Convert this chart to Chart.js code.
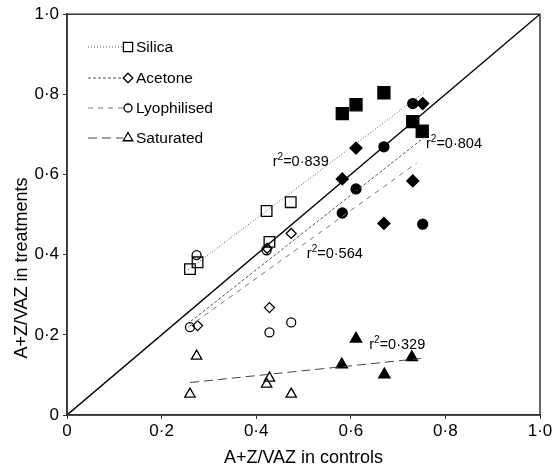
<!DOCTYPE html>
<html><head><meta charset="utf-8">
<script src="https://cdn.jsdelivr.net/npm/chart.js@4/dist/chart.umd.min.js"></script>
<style>html,body{margin:0;padding:0;background:#fff}</style>
</head><body>
<canvas id="c" width="557" height="476" style="display:block"></canvas>
<script>
// ---- data ----
const tickValues = [0, 0.2, 0.4, 0.6, 0.8, 1.0];
const tickLabels = ['0', '0·2', '0·4', '0·6', '0·8', '1·0'];

const identityX = [0, 1];
const identityY = [0, 1];

const silicaOpenX = [0.260, 0.276, 0.422, 0.428, 0.473];
const silicaOpenY = [0.364, 0.381, 0.509, 0.432, 0.531];
const silicaFilledX = [0.582, 0.611, 0.670, 0.731, 0.751];
const silicaFilledY = [0.752, 0.774, 0.804, 0.732, 0.708];

const acetoneOpenX = [0.276, 0.423, 0.428, 0.474];
const acetoneOpenY = [0.223, 0.416, 0.268, 0.453];
const acetoneFilledX = [0.582, 0.611, 0.670, 0.731, 0.752];
const acetoneFilledY = [0.589, 0.666, 0.478, 0.584, 0.777];

const lyoOpenX = [0.260, 0.274, 0.422, 0.428, 0.474];
const lyoOpenY = [0.219, 0.399, 0.411, 0.206, 0.231];
const lyoFilledX = [0.582, 0.611, 0.670, 0.731, 0.752];
const lyoFilledY = [0.504, 0.564, 0.669, 0.777, 0.476];

const satOpenX = [0.260, 0.274, 0.422, 0.428, 0.474];
const satOpenY = [0.052, 0.147, 0.077, 0.092, 0.052];
const satFilledX = [0.581, 0.611, 0.671, 0.729];
const satFilledY = [0.126, 0.190, 0.101, 0.144];

const silicaFitX = [0.256, 0.755];
const silicaFitY = [0.362, 0.805];
const acetoneFitX = [0.262, 0.761];
const acetoneFitY = [0.234, 0.698];
const lyoFitX = [0.256, 0.739];
const lyoFitY = [0.219, 0.628];
const satFitX = [0.260, 0.748];
const satFitY = [0.081, 0.141];

const seriesNames = ['Silica', 'Acetone', 'Lyophilised', 'Saturated'];
const r2Values = ['0·839', '0·804', '0·564', '0·329'];
const r2AnchorX = [0.435, 0.759, 0.507, 0.639];
const r2AnchorY = [0.621, 0.666, 0.392, 0.165];

const xTitle = 'A+Z/VAZ in controls';
const yTitle = 'A+Z/VAZ in treatments';

// ---- helpers ----
const pts = (xs, ys) => xs.map((x, i) => ({x: x, y: ys[i]}));
const FONT = "'Liberation Sans', Arial, sans-serif";
const AX = '#333';

const styles = {
  Silica: {dash: [1, 2], color: '#555', point: 'rect'},
  Acetone: {dash: [3, 2], color: '#555', point: 'rectRot'},
  Lyophilised: {dash: [5, 5], color: '#777', point: 'circle'},
  Saturated: {dash: [9, 5], color: '#444', point: 'triangle'}
};

function lineDs(xs, ys, st) {
  return {data: pts(xs, ys), showLine: true, pointRadius: 0, borderColor: st.color,
    borderWidth: 1, borderDash: st.dash, fill: false};
}
function markDs(xs, ys, style, r, filled) {
  return {data: pts(xs, ys), showLine: false, pointStyle: style, pointRadius: r,
    pointHoverRadius: r, pointBorderColor: '#000', pointBorderWidth: 1.3,
    pointBackgroundColor: filled ? '#000' : 'rgba(0,0,0,0)'};
}

const datasets = [
  {data: pts(identityX, identityY), showLine: true, pointRadius: 0, borderColor: '#000', borderWidth: 1.4},
  lineDs(silicaFitX, silicaFitY, styles.Silica),
  lineDs(acetoneFitX, acetoneFitY, styles.Acetone),
  lineDs(lyoFitX, lyoFitY, styles.Lyophilised),
  lineDs(satFitX, satFitY, styles.Saturated),
  markDs(silicaOpenX, silicaOpenY, 'rect', 7.5, false),
  markDs(silicaFilledX, silicaFilledY, 'rect', 8.5, true),
  markDs(acetoneOpenX, acetoneOpenY, 'rectRot', 5, false),
  markDs(acetoneFilledX, acetoneFilledY, 'rectRot', 6, true),
  markDs(lyoOpenX, lyoOpenY, 'circle', 4.5, false),
  markDs(lyoFilledX, lyoFilledY, 'circle', 5, true),
  markDs(satOpenX, satOpenY, 'triangle', 6, false),
  markDs(satFilledX, satFilledY, 'triangle', 6.5, true)
];

function drawMarker(ctx, style, x, y, r, filled) {
  ctx.save();
  ctx.strokeStyle = '#000'; ctx.fillStyle = '#000'; ctx.lineWidth = 1.3; ctx.setLineDash([]);
  ctx.beginPath();
  if (style === 'rect') { const s = r * Math.SQRT1_2; ctx.rect(x - s, y - s, 2 * s, 2 * s); }
  else if (style === 'rectRot') { ctx.moveTo(x, y - r); ctx.lineTo(x + r, y); ctx.lineTo(x, y + r); ctx.lineTo(x - r, y); ctx.closePath(); }
  else if (style === 'circle') { ctx.arc(x, y, r, 0, Math.PI * 2); }
  else if (style === 'triangle') {
    for (let k = 0; k < 3; k++) { const a = k * 2 * Math.PI / 3; const px = x + Math.sin(a) * r, py = y - Math.cos(a) * r; k ? ctx.lineTo(px, py) : ctx.moveTo(px, py); }
    ctx.closePath();
  }
  if (filled) ctx.fill();
  ctx.stroke();
  ctx.restore();
}

const annot = {
  id: 'annot',
  afterDraw(chart) {
    const ctx = chart.ctx, ca = chart.chartArea, xs = chart.scales.x, ys = chart.scales.y;
    ctx.save();
    // frame
    ctx.strokeStyle = AX; ctx.lineWidth = 1.5; ctx.setLineDash([]);
    ctx.strokeRect(ca.left, ca.top, ca.right - ca.left, ca.bottom - ca.top);
    // legend
    const rowY = [47, 78, 108, 138];
    seriesNames.forEach((n, i) => {
      const st = styles[n], y = rowY[i];
      ctx.strokeStyle = st.color; ctx.lineWidth = 1; ctx.setLineDash(st.dash);
      ctx.beginPath(); ctx.moveTo(88, y); ctx.lineTo(123, y); ctx.stroke();
      const r = {rect: 6.5, rectRot: 4.8, circle: 4, triangle: 5.5}[st.point];
      drawMarker(ctx, st.point, 128, y, r, false);
      ctx.fillStyle = '#000'; ctx.font = '15.5px ' + FONT; ctx.textBaseline = 'middle'; ctx.textAlign = 'left';
      ctx.fillText(n, 136, y + 1);
    });
    // r² labels
    ctx.fillStyle = '#000'; ctx.textBaseline = 'alphabetic'; ctx.textAlign = 'left';
    r2Values.forEach((v, i) => {
      let x = xs.getPixelForValue(r2AnchorX[i]);
      const y = ys.getPixelForValue(r2AnchorY[i]);
      ctx.font = '14.5px ' + FONT; ctx.fillText('r', x, y); x += ctx.measureText('r').width;
      ctx.font = '10px ' + FONT; ctx.fillText('2', x, y - 6); x += ctx.measureText('2').width;
      ctx.font = '14.5px ' + FONT; ctx.fillText('=' + v, x, y);
    });
    // axis titles
    ctx.font = '18px ' + FONT; ctx.textAlign = 'center'; ctx.textBaseline = 'alphabetic';
    ctx.fillText(xTitle, (ca.left + ca.right) / 2, 463);
    ctx.translate(27, 268); ctx.rotate(-Math.PI / 2);
    ctx.fillText(yTitle, 0, 0);
    ctx.restore();
  }
};

const axisCommon = (isX) => ({
  type: 'linear', min: 0, max: 1,
  afterBuildTicks: (s) => { s.ticks = tickValues.map(v => ({value: v})); },
  afterFit: (s) => { if (isX) s.height = 61; else s.width = 67; },
  ticks: {
    callback: (v) => { const i = tickValues.findIndex(t => Math.abs(t - v) < 1e-9); return i >= 0 ? tickLabels[i] : ''; },
    color: '#000', font: {family: FONT, size: 17}, padding: isX ? 2 : 4, maxRotation: 0, autoSkip: false
  },
  grid: {drawOnChartArea: false, drawTicks: true, tickLength: 4, color: AX, lineWidth: 1},
  border: {display: true, color: AX, width: 1.5}
});

new Chart(document.getElementById('c'), {
  type: 'scatter',
  data: {datasets: datasets},
  options: {
    responsive: false, animation: false, events: [],
    layout: {padding: {top: 14, right: 17, left: 0, bottom: 0}},
    plugins: {legend: {display: false}, tooltip: {enabled: false}},
    scales: {x: axisCommon(true), y: axisCommon(false)}
  },
  plugins: [annot]
});
</script>
</body></html>
